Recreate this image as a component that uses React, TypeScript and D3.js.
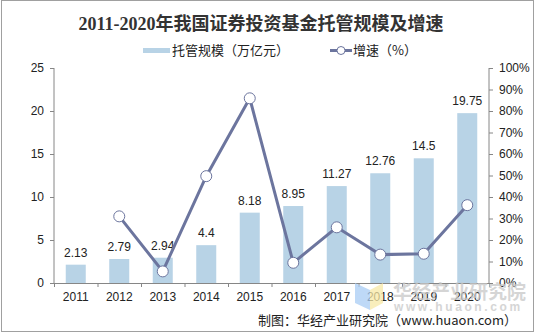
import React from "react";
import * as d3 from "d3";

const years = ["2011", "2012", "2013", "2014", "2015", "2016", "2017", "2018", "2019", "2020"];
const scale = [2.13, 2.79, 2.94, 4.4, 8.18, 8.95, 11.27, 12.76, 14.5, 19.75];
const growth: (number | null)[] = [null, 31.0, 5.4, 49.7, 85.9, 9.4, 25.9, 13.2, 13.6, 36.2];
const leftTicks = [0, 5, 10, 15, 20, 25];
const rightTicks = [0, 10, 20, 30, 40, 50, 60, 70, 80, 90, 100];

const W = 536, H = 335;
const L = 54, R = 489, T = 68, B = 283;
const BAR = "#b8d3e6";
const LINE = "#6c759e";
const AX = "#868686";
const SANS = "'Liberation Sans', Arial, 'Noto Sans CJK SC', sans-serif";
const CJK = "'Noto Sans CJK SC', sans-serif";

export default function App() {
  const x = d3.scaleBand<string>().domain(years).range([L, R]).paddingInner(0.54).paddingOuter(0.27);
  const band = d3.scaleBand<string>().domain(years).range([L, R]);
  const y = d3.scaleLinear().domain([0, 25]).range([B, T]);
  const y2 = d3.scaleLinear().domain([0, 100]).range([B, T]);
  const pts = years.map((yr, i) => ({ yr, g: growth[i] })).filter((d) => d.g !== null) as { yr: string; g: number }[];
  const line = d3
    .line<{ yr: string; g: number }>()
    .x((d) => (band(d.yr) as number) + band.bandwidth() / 2)
    .y((d) => y2(d.g));

  return (
    <svg width={W} height={H} style={{ position: "absolute", left: 0, top: 0 }}>
      <rect x={0} y={0} width={W} height={H} fill="#fff" />
      <rect x={1.5} y={0.5} width={532} height={331} fill="none" stroke="#a0a0a0" />
      <text x={261} y={30} textAnchor="middle" fontFamily="'Liberation Serif', 'Noto Sans CJK SC', serif" fontWeight="bold" fontSize={18} fill="#333">
        2011-2020年我国证券投资基金托管规模及增速
      </text>
      {/* legend */}
      <rect x={143} y={48} width={27} height={5} fill={BAR} />
      <text x={172} y={55} fontFamily={CJK} fontSize={13} fill="#222">托管规模（万亿元）</text>
      <line x1={330} x2={352} y1={50.5} y2={50.5} stroke={LINE} strokeWidth={3} />
      <circle cx={341} cy={50.5} r={4} fill="#fff" stroke={LINE} strokeWidth={1} />
      <text x={353} y={55} fontFamily={CJK} fontSize={13} fill="#222">增速（%）</text>

      {/* axes */}
      <line x1={L} x2={L} y1={T} y2={B} stroke={AX} />
      <line x1={R} x2={R} y1={T} y2={B} stroke={AX} />
      <line x1={L} x2={R} y1={B + 0.5} y2={B + 0.5} stroke={AX} />
      {leftTicks.map((t) => (
        <g key={"l" + t}>
          <line x1={L - 4} x2={L} y1={y(t) + 0.5} y2={y(t) + 0.5} stroke={AX} />
          <text x={44} y={y(t) + 4} textAnchor="end" fontFamily={SANS} fontSize={12} fill="#222">{t}</text>
        </g>
      ))}
      {rightTicks.map((t) => (
        <g key={"r" + t}>
          <line x1={R} x2={R + 4} y1={y2(t) + 0.5} y2={y2(t) + 0.5} stroke={AX} />
          <text x={499} y={y2(t) + 4} fontFamily={SANS} fontSize={12} fill="#222">{t}%</text>
        </g>
      ))}
      {years.map((yr, i) => (
        <g key={"x" + yr}>
          <line x1={(band(yr) as number) + 0.5} x2={(band(yr) as number) + 0.5} y1={B} y2={B + 4} stroke={AX} />
          <text x={(band(yr) as number) + band.bandwidth() / 2} y={301} textAnchor="middle" fontFamily={SANS} fontSize={12} fill="#222">{yr}</text>
        </g>
      ))}
      <line x1={R + 0.5} x2={R + 0.5} y1={B} y2={B + 4} stroke={AX} />

      {/* bars */}
      {years.map((yr, i) => (
        <g key={"b" + yr}>
          <rect x={x(yr)} y={y(scale[i])} width={x.bandwidth()} height={B - y(scale[i])} fill={BAR} />
          <text x={(x(yr) as number) + x.bandwidth() / 2} y={y(scale[i]) - 8} textAnchor="middle" fontFamily={SANS} fontSize={12} fill="#222">{scale[i]}</text>
        </g>
      ))}

      {/* line */}
      <path d={line(pts) || ""} fill="none" stroke={LINE} strokeWidth={3} />
      {pts.map((d) => (
        <circle key={"c" + d.yr} cx={(band(d.yr) as number) + band.bandwidth() / 2} cy={y2(d.g)} r={5.5} fill="#fff" stroke={LINE} strokeWidth={1} />
      ))}

      {/* watermark */}
      <g opacity={0.75}>
        <polygon points="355,283 370,290 370,310 355,303" fill="#a9cdf5" />
        <polygon points="370,290 383,283 383,303 370,310" fill="#f8e9a6" />
        <text x={393} y={299} fontFamily={CJK} fontWeight="bold" fontSize={19} fill="#c8c8c8">华经产业研究院</text>
        <text x={394} y={311} fontFamily={SANS} fontWeight="bold" fontSize={12} letterSpacing={2.6} fill="#c8c8c8">www.huaon.com</text>
      </g>

      <text x={517} y={325} textAnchor="end" fontFamily={CJK} fontSize={13} fill="#222">制图：华经产业研究院（www.huaon.com）</text>
    </svg>
  );
}
